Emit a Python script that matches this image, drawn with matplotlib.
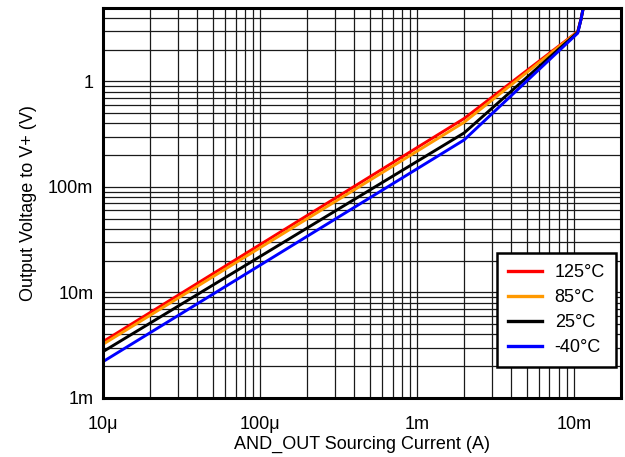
import numpy as np
import matplotlib.pyplot as plt
from matplotlib.ticker import NullFormatter, LogLocator

plt.rcParams['font.family'] = ['Liberation Sans', 'DejaVu Sans']

# data (A, V)
current = [10e-6, 2e-3, 10.6e-3, 11.1e-3, 11.6e-3]
v_125 = [3.42e-3, 0.445, 2.97, 3.85, 5.3]
v_85 = [3.23e-3, 0.41, 2.95, 3.85, 5.3]
v_25 = [2.75e-3, 0.325, 2.92, 3.84, 5.3]
v_m40 = [2.21e-3, 0.279, 2.87, 3.83, 5.3]

labels = ['125°C', '85°C', '25°C', '-40°C']
colors = ['#ff0000', '#ff9900', '#000000', '#0000ff']
series = [v_125, v_85, v_25, v_m40]

xticks = [1e-5, 1e-4, 1e-3, 1e-2]
xticklabels = ['10\u03bc', '100\u03bc', '1m', '10m']
yticks = [1e-3, 1e-2, 1e-1, 1]
yticklabels = ['1m', '10m', '100m', '1']

fig = plt.figure(figsize=(6.25, 4.57), dpi=100)
ax = fig.add_axes([103/625, 1-398/457, (621-103)/625, (398-7.7)/457])

for y, c, lab in zip(series, colors, labels):
    ax.plot(current, y, color=c, lw=2.1, label=lab, solid_joinstyle='round')

ax.set_xscale('log')
ax.set_yscale('log')
ax.set_xlim(1e-5, 2e-2)
ax.set_ylim(1e-3, 5)

ax.set_xticks(xticks)
ax.set_xticklabels(xticklabels)
ax.set_yticks(yticks)
ax.set_yticklabels(yticklabels)
ax.xaxis.set_minor_locator(LogLocator(base=10, subs=np.arange(2, 10)))
ax.yaxis.set_minor_locator(LogLocator(base=10, subs=np.arange(2, 10)))
ax.xaxis.set_minor_formatter(NullFormatter())
ax.yaxis.set_minor_formatter(NullFormatter())
ax.tick_params(which='both', length=0, labelsize=13)
ax.tick_params(axis='x', pad=13)
ax.tick_params(axis='y', pad=7)

ax.grid(True, which='both', color='#1a1a1a', lw=0.9)
ax.set_axisbelow(True)
for s in ax.spines.values():
    s.set_linewidth(2.2)

ax.set_xlabel('AND_OUT Sourcing Current (A)', fontsize=13, labelpad=2)
ax.set_ylabel('Output Voltage to V+ (V)', fontsize=13, labelpad=8)

leg = ax.legend(loc='lower right', bbox_to_anchor=(0.99, 0.079), fontsize=13,
                fancybox=False, framealpha=1, edgecolor='black',
                handlelength=1.9, handletextpad=0.7, labelspacing=0.45,
                borderpad=0.6, borderaxespad=0)
leg.get_frame().set_linewidth(1.8)
for l in leg.get_lines():
    l.set_linewidth(2.4)

fig.savefig('out.png', dpi=100)
